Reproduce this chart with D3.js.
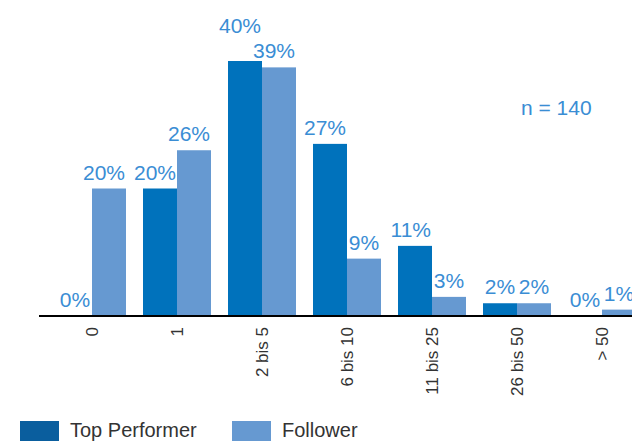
<!DOCTYPE html>
<html>
<head>
<meta charset="utf-8">
<script src="https://cdn.jsdelivr.net/npm/d3@7"></script>
<style>
  body { margin: 0; background: #fff; }
  svg { display: block; font-family: 'Liberation Sans', Arial, sans-serif; }
</style>
</head>
<body>
<div id="chart"></div>
<script>
'use strict';

/** the categories along the x axis */
const categories = ['0', '1', '2 bis 5', '6 bis 10', '11 bis 25', '26 bis 50', '> 50'];

/** share of top performers per category, in percent */
const topPerformer = [0, 20, 40, 27, 11, 2, 0];

/** share of followers per category, in percent */
const follower = [20, 26, 39, 9, 3, 2, 1];

/** the series names, used for the legend */
const seriesNames = ['Top Performer', 'Follower'];

/** the sample size note */
const sampleNote = 'n = 140';

const width = 632;
const height = 444;

const colTop = '#0072bc';
const colFollower = '#6699d1';
const colLegendTop = '#0a5e9e';
const colLabel = '#3a8dd4';
const colText = '#333333';

// one row per category so both series can be joined together
const rows = categories.map((c, i) => ({ cat: c, values: [topPerformer[i], follower[i]] }));

const svg = d3.select('#chart')
  .append('svg')
    .attr('width', width)
    .attr('height', height);

/** x scale for the category groups */
const x = d3.scaleBand()
  .domain(categories)
  .range([49.5, 644.5])
  .paddingInner(0.2)
  .paddingOuter(0.1);

/** x scale for the two bars inside a group */
const xSub = d3.scaleBand()
  .domain([0, 1])
  .range([0, x.bandwidth()]);

/** y scale, percent to pixels */
const y = d3.scaleLinear()
  .domain([0, 40])
  .range([316, 61]);

// bars
const groups = svg.selectAll('g.group')
  .data(rows)
  .join('g')
    .attr('class', 'group')
    .attr('transform', d => `translate(${x(d.cat)},0)`);

groups.selectAll('rect')
  .data(d => d.values.map((v, i) => ({ v: v, i: i })))
  .join('rect')
    .attr('x', d => xSub(d.i))
    .attr('y', d => y(d.v))
    .attr('width', xSub.bandwidth())
    .attr('height', d => y(0) - y(d.v))
    .attr('fill', d => d.i === 0 ? colTop : colFollower);

// value labels: two digit values end at the bar edge, single digits are centred
const labelSize = 21;
function labelWidth (v) {
  return (v >= 10 ? 2.0 : 1.45) * labelSize;
}

groups.each(function (d) {
  const g = d3.select(this);
  const pos = d.values.map((v, i) => {
    const left = xSub(i);
    const right = left + xSub.bandwidth();
    const anchor = v >= 10 ? 'end' : 'middle';
    const tx = v >= 10 ? right - 1 : left + xSub.bandwidth() / 2;
    const x0 = v >= 10 ? tx - labelWidth(v) : tx - labelWidth(v) / 2;
    return { v: v, anchor: anchor, tx: tx, x0: x0, x1: x0 + labelWidth(v), ty: y(v) - 9 };
  });
  // lift the top performer label when it would run into the follower label
  if (pos[0].x1 > pos[1].x0 && Math.abs(pos[0].ty - pos[1].ty) < 16) {
    pos[0].ty = Math.min(pos[0].ty, pos[1].ty - 25);
  }
  g.selectAll('text.val')
    .data(pos)
    .join('text')
      .attr('class', 'val')
      .attr('x', p => p.tx)
      .attr('y', p => p.ty)
      .attr('text-anchor', p => p.anchor)
      .attr('fill', colLabel)
      .style('font-size', labelSize + 'px')
      .text(p => p.v + '%');
});

// x axis with rotated labels
const xAxis = svg.append('g')
  .attr('transform', `translate(0,${y(0)})`)
  .call(d3.axisBottom(x).tickSize(0));

xAxis.select('.domain').remove();
xAxis.selectAll('text')
  .attr('y', 0)
  .attr('x', -11)
  .attr('dy', '0.35em')
  .attr('transform', 'rotate(-90)')
  .style('text-anchor', 'end')
  .style('font-size', '17px')
  .style('font-family', "'Liberation Sans', Arial, sans-serif")
  .attr('fill', colText);

svg.append('line')
  .attr('x1', 39)
  .attr('x2', width)
  .attr('y1', y(0))
  .attr('y2', y(0))
  .attr('stroke', '#000')
  .attr('stroke-width', 2);

// sample size
svg.append('text')
  .attr('x', 521)
  .attr('y', 115)
  .attr('fill', colLabel)
  .style('font-size', '21px')
  .text(sampleNote);

// legend
const legendX = [20, 232];
const legend = svg.selectAll('g.legend')
  .data(seriesNames)
  .join('g')
    .attr('class', 'legend')
    .attr('transform', (d, i) => `translate(${legendX[i]},421)`);

legend.append('rect')
  .attr('width', 39)
  .attr('height', 20)
  .attr('fill', (d, i) => i === 0 ? colLegendTop : colFollower);

legend.append('text')
  .attr('x', 50)
  .attr('y', 16)
  .attr('fill', colText)
  .style('font-size', '20px')
  .text(d => d);
</script>
</body>
</html>
